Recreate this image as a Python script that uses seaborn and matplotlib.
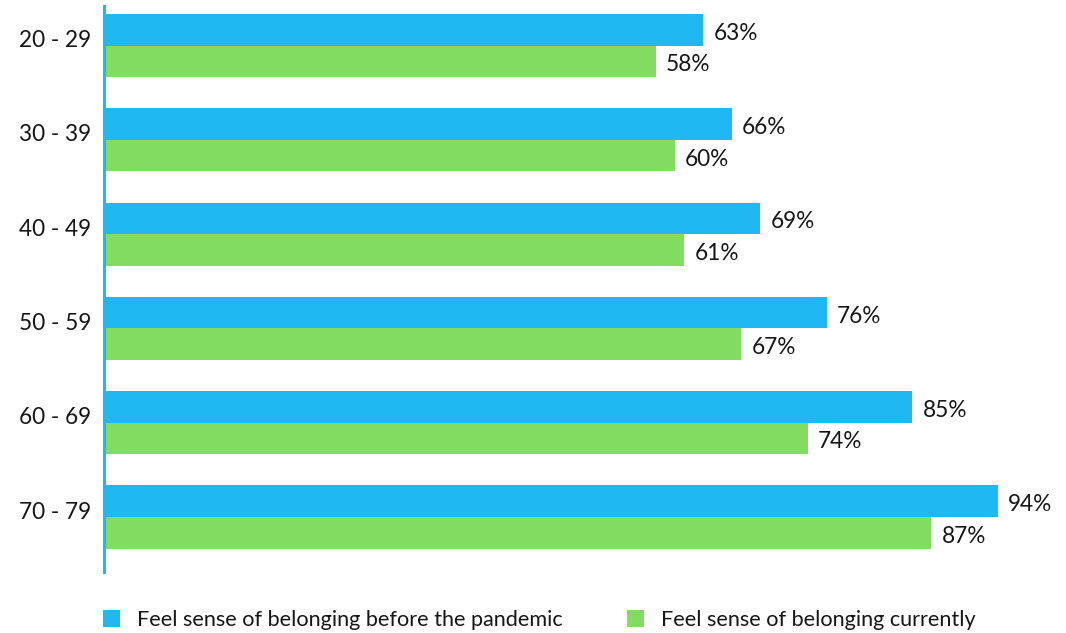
import matplotlib
matplotlib.use("Agg")
import matplotlib.pyplot as plt
import matplotlib.transforms as mtransforms
import seaborn as sns
import pandas as pd
from matplotlib.patches import Patch

# Age groups and the share who feel a sense of belonging (%)
age_groups = ["20 - 29", "30 - 39", "40 - 49", "50 - 59", "60 - 69", "70 - 79"]
before_pandemic = [63, 66, 69, 76, 85, 94]
currently = [58, 60, 61, 67, 74, 87]
series_names = ["Feel sense of belonging before the pandemic",
                "Feel sense of belonging currently"]

BLUE = "#20B8F3"
GREEN = "#83DC62"
TEXT = "#161616"
FS = 16.3
LEGEND_FS = 15.6

df = pd.DataFrame({
    "age": age_groups * 2,
    "value": before_pandemic + currently,
    "series": [series_names[0]] * len(age_groups) + [series_names[1]] * len(age_groups),
})

sns.set_theme(style="white")
plt.rcParams["font.family"] = ["Lato", "DejaVu Sans"]

fig = plt.figure(figsize=(10.66, 6.33), dpi=100)
ax = fig.add_axes([104 / 1066, 1 - 572 / 633, 951 / 1066, 566 / 633])

sns.barplot(data=df, y="age", x="value", hue="series", orient="h",
            palette=[BLUE, GREEN], width=0.67, saturation=1, linewidth=0,
            order=age_groups, hue_order=series_names, ax=ax, legend=False)

# value labels just right of each bar, sitting slightly low
for container in ax.containers:
    for bar, v in zip(container.patches, container.datavalues):
        ax.annotate(f"{v:.0f}%", xy=(bar.get_width(), bar.get_y() + bar.get_height() / 2),
                    xytext=(7.5, -2.5), textcoords="offset points",
                    ha="left", va="center", fontsize=FS, color=TEXT)

ax.set_xlim(0, 100)
ax.set_ylim(len(age_groups) - 1 + 0.583, -0.419)
ax.set_xlabel("")
ax.set_ylabel("")
ax.set_xticks([])
ax.tick_params(axis="y", length=0, pad=9, labelsize=FS, labelcolor=TEXT)

# lift the category labels a little above the group centre
lift = mtransforms.ScaledTranslation(0, 5 / 72, fig.dpi_scale_trans)
for lbl in ax.get_yticklabels():
    lbl.set_transform(lbl.get_transform() + lift)

for side in ["top", "right", "bottom"]:
    ax.spines[side].set_visible(False)
ax.spines["left"].set_color(BLUE)
ax.spines["left"].set_linewidth(2.2)

handles = [Patch(facecolor=BLUE, edgecolor="none"),
           Patch(facecolor=GREEN, edgecolor="none")]
fig.legend(handles, series_names, loc="center left",
           bbox_to_anchor=(103 / 1066, 1 - 620 / 633), ncol=2, frameon=False,
           borderpad=0, borderaxespad=0,
           fontsize=LEGEND_FS, handlelength=0.78, handleheight=0.78,
           handletextpad=0.78, columnspacing=3.0, labelcolor=TEXT)

fig.savefig("out.png", dpi=100)
